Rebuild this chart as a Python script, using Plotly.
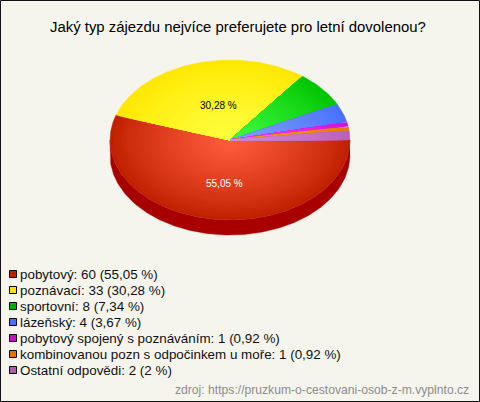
import numpy as np
import plotly.graph_objects as go

title = "Jaký typ zájezdu nejvíce preferujete pro letní dovolenou?"
categories = ["pobytový", "poznávací", "sportovní", "lázeňský",
              "pobytový spojený s poznáváním", "kombinovanou pozn s odpočinkem u moře", "Ostatní odpovědi"]
values = [60, 33, 8, 4, 1, 1, 2]
percents = ["55,05 %", "30,28 %", "7,34 %", "3,67 %", "0,92 %", "0,92 %", "2 %"]
source = "zdroj: https://pruzkum-o-cestovani-osob-z-m.vyplnto.cz"

inner_colors = ["#ff5c3e", "#ffff40", "#40fc40", "#80a0ff", "#ff40ff", "#ffa020", "#d888d8"]
outer_colors = ["#c02000", "#ffe800", "#00c400", "#4870ff", "#d010d8", "#e87800", "#b860b8"]
legend_colors = ["#c02000", "#ffe000", "#00b000", "#4870ff", "#c810c8", "#e87000", "#b858b0"]

W, H = 480, 402
CX, CY, RX, RY, DEPTH = 230, 140, 120, 80, 15
LAYERS = 30


def hex2rgb(c):
    return np.array([int(c[i:i + 2], 16) for i in (1, 3, 5)], float)


def mix(a, b, t):
    r = hex2rgb(a) * (1 - t) + hex2rgb(b) * t
    return "rgb(%d,%d,%d)" % tuple(r.round())


fracs = np.array(values, float) / sum(values)
edges = np.concatenate([[0], np.cumsum(fracs)]) * 2 * np.pi  # clockwise from east

fig = go.Figure()


def add_poly(x, y, color):
    fig.add_trace(go.Scatter(x=x, y=y, mode="lines", fill="toself", fillcolor=color,
                             line=dict(color=color, width=0.4), hoverinfo="skip", showlegend=False))


# side wall of the first slice: visible front half only
t = np.linspace(edges[0], min(edges[1], np.pi), 200)
xs = CX + RX * np.cos(t)
ys = CY + RY * np.sin(t)
add_poly(np.concatenate([xs, xs[::-1]]), np.concatenate([ys, ys[::-1] + DEPTH]), "#a80000")

# top face with layered radial gradient
for i in range(len(values)):
    t = np.linspace(edges[i], edges[i + 1], max(8, int(fracs[i] * 400)))
    for k in range(LAYERS):
        s = 1 - k / LAYERS
        col = mix(outer_colors[i], inner_colors[i], (k / (LAYERS - 1)) ** 0.85)
        add_poly(np.concatenate([[CX], CX + s * RX * np.cos(t), [CX]]),
                 np.concatenate([[CY], CY + s * RY * np.sin(t), [CY]]), col)

annotations = []


def label(x, y, text, size, color="#000000", anchor="left"):
    annotations.append(dict(x=x, y=y, text=text, showarrow=False, xanchor=anchor, yanchor="middle",
                            xref="x", yref="y", font=dict(family="Liberation Sans", size=size, color=color)))


# percent labels inside the large slices
label(224, 183, percents[0], 10, "#ffffff", "center")
label(218, 105, percents[1], 10, "#000000", "center")

label(238, 27, title, 14.9, "#000000", "center")

rows = [274 + 16 * i for i in range(len(values))]
fig.add_trace(go.Scatter(x=[13] * len(values), y=rows, mode="markers", hoverinfo="skip", showlegend=False,
                         marker=dict(symbol="square", size=7, color=legend_colors,
                                     line=dict(color="#000000", width=1))))
for i, r in enumerate(rows):
    label(18, r, f"{categories[i]}: {values[i]} ({percents[i]})", 13.4, "#111111")
label(471, 390, source, 12.15, "#8c8c8c", "right")

fig.update_layout(
    width=W, height=H, autosize=False, margin=dict(l=0, r=0, t=0, b=0),
    paper_bgcolor="#f5f5ee", plot_bgcolor="#f5f5ee",
    xaxis=dict(range=[0, W], visible=False, fixedrange=True),
    yaxis=dict(range=[H, 0], visible=False, fixedrange=True),
    annotations=annotations,
    shapes=[dict(type="rect", xref="x", yref="y", x0=0.5, y0=0.5, x1=W - 0.5, y1=H - 0.5,
                 line=dict(color="#111111", width=1))],
)
fig.write_html("out.html", config={"displayModeBar": False},
               post_script="document.body.style.margin='0';document.documentElement.style.overflow='hidden';")
